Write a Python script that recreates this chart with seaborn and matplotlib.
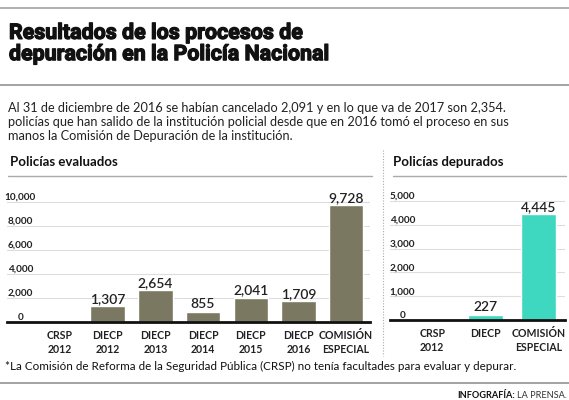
import matplotlib
matplotlib.use("Agg")
import matplotlib.pyplot as plt
import matplotlib.transforms as mtransforms
import matplotlib.patheffects as pe
from matplotlib.lines import Line2D
import seaborn as sns
import pandas as pd

# ---- data ----
eval_categories = ["CRSP\n2012", "DIECP\n2012", "DIECP\n2013", "DIECP\n2014",
                   "DIECP\n2015", "DIECP\n2016", "COMISIÓN\nESPECIAL"]
eval_values = [0, 1307, 2654, 855, 2041, 1709, 9728]
eval_yticks = [0, 2000, 4000, 6000, 8000, 10000]

dep_categories = ["CRSP\n2012", "DIECP", "COMISIÓN\nESPECIAL"]
dep_values = [0, 227, 4445]
dep_yticks = [0, 1000, 2000, 3000, 4000, 5000]

title = "Resultados de los procesos de\ndepuración en la Policía Nacional"
subtitle = ("Al 31 de diciembre de 2016 se habían cancelado 2,091 y en lo que va de 2017 son 2,354.\n"
            "policías que han salido de la institución policial desde que en 2016 tomó el proceso en sus\n"
            "manos la Comisión de Depuración de la institución.")
left_title = "Policías evaluados"
right_title = "Policías depurados"
footnote = "*La Comisión de Reforma de la Seguridad Pública (CRSP) no tenía facultades para evaluar y depurar."

sns.set_theme(style="white")
plt.rcParams['font.family'] = ['Lato', 'DejaVu Sans']

W, H = 569, 400
fig = plt.figure(figsize=(W / 100, H / 100), dpi=100)
fig.patch.set_facecolor("white")

def fx(px):
    return px / W

def fy(py):
    return 1 - py / H

def hline(y, x0, x1, color="#9a9a9a", lw=1.2, ls="-"):
    fig.add_artist(Line2D([fx(x0), fx(x1)], [fy(y), fy(y)], transform=fig.transFigure,
                          color=color, lw=lw, ls=ls))

# header
hline(8, 0, 569, color="#aaaaaa", lw=1.3)
fig.text(fx(9), fy(44), title, fontsize=15.4, fontweight="bold", color="#111111",
         va="center", ha="left", linespacing=1.15, family=["Roboto", "DejaVu Sans"],
         path_effects=[pe.withStroke(linewidth=0.9, foreground="#111111")])
hline(85, 0, 569, color="#8a8a8a", lw=1.1)
fig.text(fx(8), fy(122), subtitle, fontsize=9.2, color="#222222", va="center", ha="left",
         linespacing=1.25)

# panel titles
fig.text(fx(10), fy(162), left_title, fontsize=9.5, fontweight="bold", color="#111111",
         va="center", ha="left")
hline(176, 8, 372, color="#aaaaaa", lw=1.0)
fig.text(fx(393), fy(162), right_title, fontsize=9.5, fontweight="bold", color="#111111",
         va="center", ha="left")
hline(176, 393, 566, color="#aaaaaa", lw=1.0)

# dotted separator
fig.add_artist(Line2D([fx(383), fx(383)], [fy(150), fy(356)], transform=fig.transFigure,
                      color="#aaaaaa", lw=0.8, ls=(0, (1, 1.5))))


def panel(rect, cats, vals, yticks, ylim, xlim, color, width, label_x):
    ax = fig.add_axes(rect)
    df = pd.DataFrame({"cat": cats, "val": vals})
    sns.barplot(data=df, x="cat", y="val", order=cats, color=color, width=width,
                saturation=1, ax=ax, zorder=3)
    ax.set_xlim(*xlim)
    ax.set_ylim(*ylim)
    ax.set_xlabel("")
    ax.set_ylabel("")
    ax.set_yticks(yticks)
    ax.set_yticklabels([])
    ax.tick_params(axis="y", length=0)
    ax.tick_params(axis="x", length=0, pad=6, labelsize=7.6, labelcolor="#222222")
    for lbl in ax.get_xticklabels():
        lbl.set_fontweight("bold")
        lbl.set_linespacing(1.3)
    ax.grid(axis="y", color="#dddddd", lw=0.8, zorder=0)
    ax.grid(axis="x", visible=False)
    for s in ["top", "right", "left"]:
        ax.spines[s].set_visible(False)
    ax.spines["bottom"].set_color("#111111")
    ax.spines["bottom"].set_linewidth(2)
    ax.spines["bottom"].set_zorder(5)
    trans = mtransforms.blended_transform_factory(ax.transAxes, ax.transData)
    for t in yticks:
        ax.text(label_x, t, f"{t:,}", transform=trans, ha="center", va="bottom",
                fontsize=7.2, color="#222222", fontweight="bold")
    ax.bar_label(ax.containers[0], labels=[f"{v:,}" if v else "" for v in vals],
                 padding=1, fontsize=10, fontweight="semibold", color="#222222")
    ax.patch.set_alpha(0)
    return ax

# left panel
panel([fx(7), fy(322), fx(370) - fx(7), fy(185) - fy(322)], eval_categories, eval_values,
      eval_yticks, (0, 11417), (-1.11, 6.5), "#7b7862", 0.72, 0.037)

# right panel
panel([fx(390), fy(320), fx(565) - fx(390), fy(185) - fy(320)], dep_categories, dep_values,
      dep_yticks, (0, 5672), (-0.79, 2.49), "#3ed8c0", 0.66, 0.07)

# footer
fig.text(fx(5), fy(366), footnote, fontsize=8.4, color="#111111", va="center", ha="left")
hline(383, 0, 569, color="#8a8a8a", lw=1.1)
t1 = fig.text(fx(567), fy(395), "LA PRENSA.", fontsize=6.6, color="#333333",
              va="center", ha="right")
fig.canvas.draw()
bb = t1.get_window_extent()
fig.text(bb.x0 / W - fx(2), fy(395), "INFOGRAFÍA:", fontsize=6.6, fontweight="bold",
         color="#111111", va="center", ha="right")

fig.savefig("out.png", dpi=100, facecolor="white")
